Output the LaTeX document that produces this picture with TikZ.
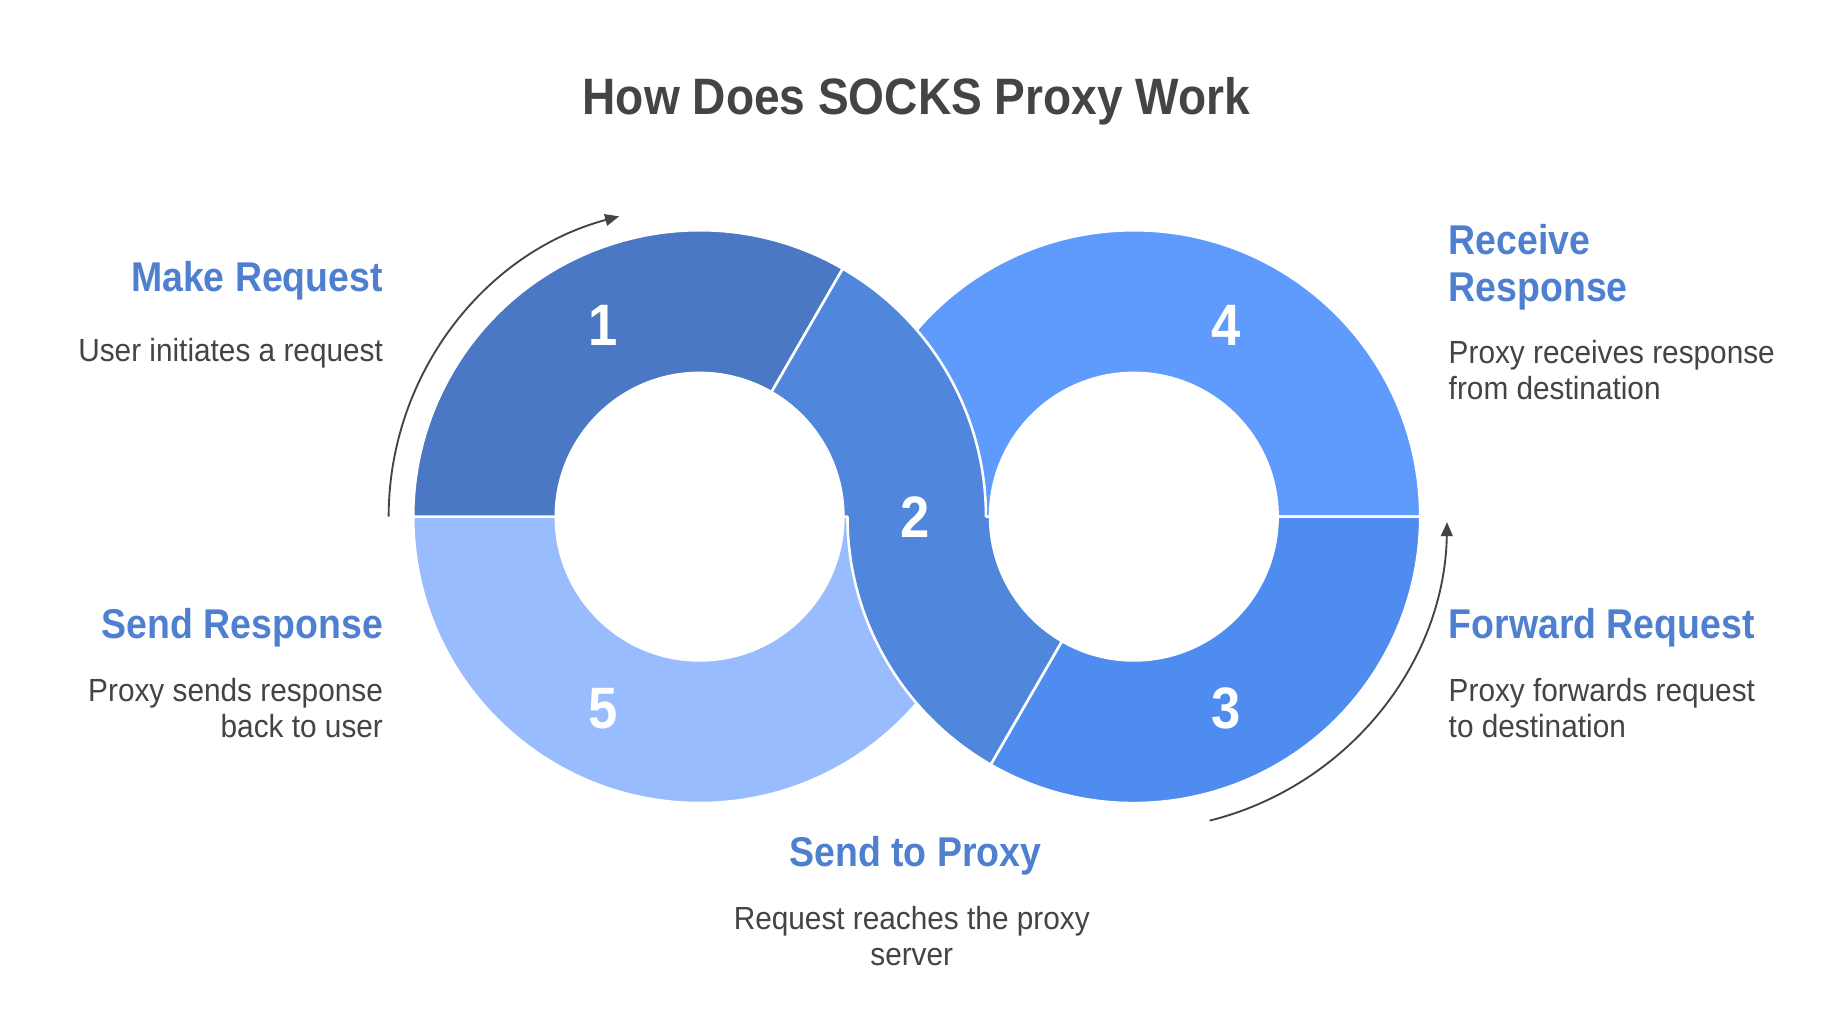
\documentclass[tikz,border=0pt]{standalone}
\usepackage{fontspec}
\setmainfont[FakeStretch=0.9]{Liberation Sans}
\newfontfamily\bodyfont[FakeStretch=0.93]{Liberation Sans}
\usetikzlibrary{arrows.meta}
\definecolor{segA}{HTML}{4A78C4}
\definecolor{segB}{HTML}{5086DC}
\definecolor{segC}{HTML}{4F8CF0}
\definecolor{segD}{HTML}{5E9BFD}
\definecolor{segE}{HTML}{98BCFD}
\definecolor{headblue}{HTML}{4F80D0}
\definecolor{darktext}{HTML}{444444}
\tikzset{
  seg/.style={draw=white, line width=1.1pt, line join=round},
  num/.style={text=white, font=\fontsize{25pt}{30pt}\selectfont\bfseries, inner sep=0pt},
  head/.style={text=headblue, font=\fontsize{17.8pt}{20pt}\selectfont\bfseries, inner sep=0pt},
  body/.style={text=darktext, font=\bodyfont\fontsize{13.7pt}{15.3pt}\selectfont, inner sep=0pt},
  flow/.style={draw=darktext, line width=0.8pt, -{Triangle[length=6pt,width=5pt]}}
}
\begin{document}
\begin{tikzpicture}[x=0.5pt,y=0.5pt]
\useasboundingbox (0,0) rectangle (1569,-882.9);
\fill[white] (0,0) rectangle (1569,-882.9);
\coordinate (L) at (598.5,-442);
\coordinate (R) at (970,-442);
% segment 5 (left lower half)
\path[seg, fill=segE] ([shift={(180:245)}]L) arc[start angle=180, end angle=360, radius=245]
  -- ([shift={(0:123)}]L) arc[start angle=360, end angle=180, radius=123] -- cycle;
% segment 4 (right upper half)
\path[seg, fill=segD] ([shift={(0:245)}]R) arc[start angle=0, end angle=180, radius=245]
  -- ([shift={(180:123)}]R) arc[start angle=180, end angle=0, radius=123] -- cycle;
% segment 1
\path[seg, fill=segA] ([shift={(60:245)}]L) arc[start angle=60, end angle=180, radius=245]
  -- ([shift={(180:123)}]L) arc[start angle=180, end angle=60, radius=123] -- cycle;
% segment 3
\path[seg, fill=segC] ([shift={(240:245)}]R) arc[start angle=240, end angle=360, radius=245]
  -- ([shift={(0:123)}]R) arc[start angle=360, end angle=240, radius=123] -- cycle;
% segment 2
\path[seg, fill=segB] ([shift={(60:245)}]L) arc[start angle=60, end angle=0, radius=245]
  -- ([shift={(180:123)}]R) arc[start angle=180, end angle=240, radius=123]
  -- ([shift={(240:245)}]R) arc[start angle=240, end angle=180, radius=245]
  -- ([shift={(0:123)}]L) arc[start angle=0, end angle=60, radius=123] -- cycle;
% numbers
\node[num] (n1) at (516,-278) {1};
\node[num] (n2) at (783,-442) {2};
\node[num] (n3) at (1049,-606) {3};
\node[num] (n4) at (1049,-278) {4};
\node[num] (n5) at (516,-606) {5};
% flow arrows
\coordinate (a1s) at ([shift={(180:266)}]L);
\coordinate (a2s) at ([shift={(-76:268)}]R);
\draw[flow] (a1s) arc[start angle=180, end angle=105, radius=266];
\draw[flow] (a2s) arc[start angle=-76, end angle=-1, radius=268];
% title
\node[text=darktext, font=\fontsize{21.9pt}{26pt}\selectfont\bfseries, anchor=base, inner sep=0pt] (title) at (784,-98) {How Does SOCKS Proxy Work};
% labels
\node[head, anchor=base east] (h1) at (328,-249) {Make Request};
\node[body, anchor=base east] (b1) at (328,-309) {User initiates a request};
\node[head, anchor=base west, align=left] (h4) at (1239,-258) {Receive\\Response};
\node[body, anchor=base west, align=left] (b4) at (1239,-342) {Proxy receives response\\from destination};
\node[head, anchor=base east] (h5) at (328,-546) {Send Response};
\node[body, anchor=base east, align=right] (b5) at (328,-631) {Proxy sends response\\back to user};
\node[head, anchor=base west] (h3) at (1239,-546) {Forward Request};
\node[body, anchor=base west, align=left] (b3) at (1239,-631) {Proxy forwards request\\to destination};
\node[head, anchor=base] (h2) at (783,-741) {Send to Proxy};
\node[body, anchor=base, align=center] (b2) at (780,-826) {Request reaches the proxy\\server};
\end{tikzpicture}
\end{document}
